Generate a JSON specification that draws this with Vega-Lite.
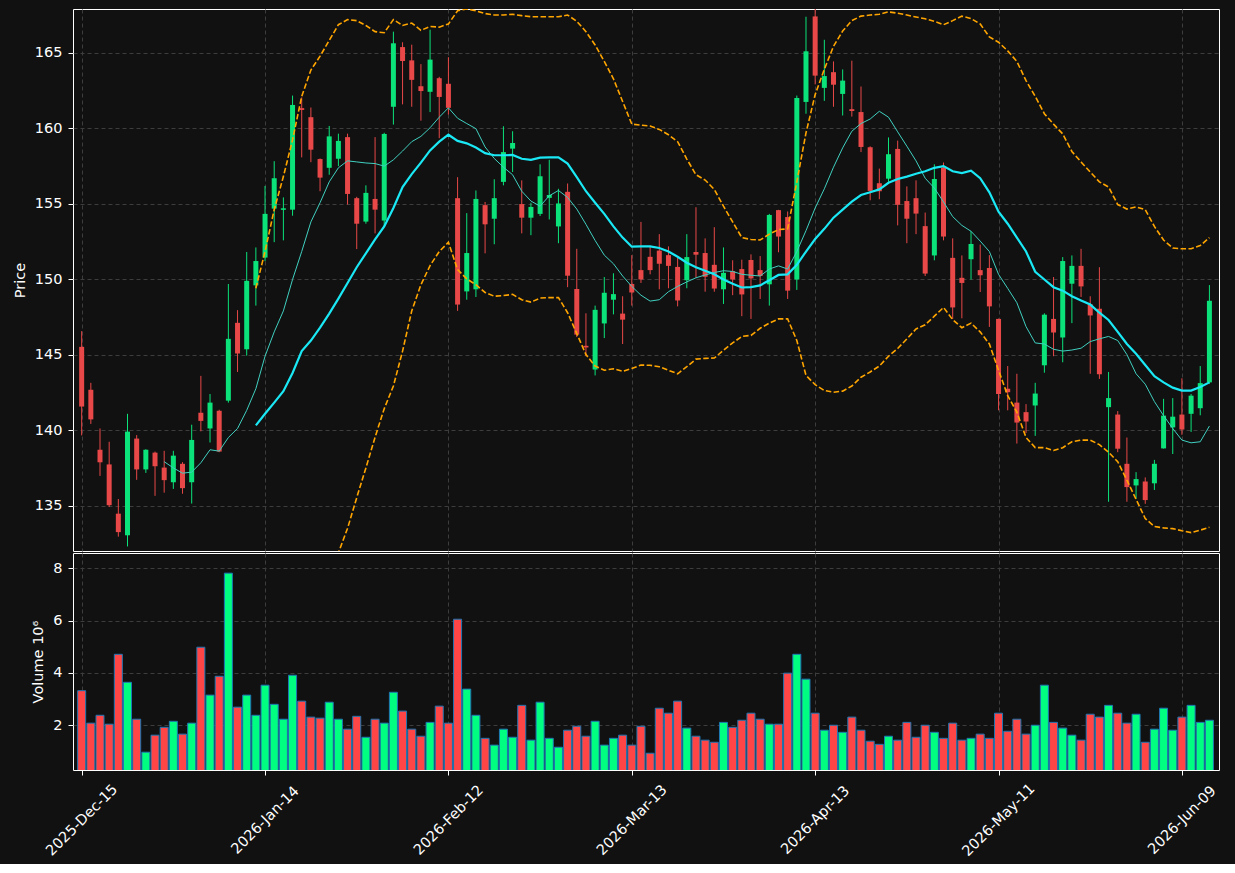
{
"$schema": "https://vega.github.io/schema/vega-lite/v6.json",
"background": "#111111",
"padding": {"left": 11, "top": 8, "right": 16, "bottom": 5},
"spacing": 0,
"config": {
  "view": {"stroke": "#ffffff", "strokeWidth": 1},
  "font": "DejaVu Sans",
  "axis": {"labelColor": "#ffffff", "titleColor": "#ffffff", "tickColor": "#ffffff", "domain": false, "gridColor": "#3d3d3d", "gridDash": [4, 3], "gridWidth": 1, "labelFontSize": 14.5, "titleFontSize": 14.5, "titleFontWeight": "normal", "tickSize": 5, "labelPadding": 6, "labelFlush": false, "labelOverlap": false}
},
"datasets": {"d": [
{"i":0,"o":145.53,"h":146.57,"l":139.67,"c":141.58,"v":3.32},
{"i":1,"o":142.69,"h":143.15,"l":140.43,"c":140.73,"v":2.08},
{"i":2,"o":138.72,"h":140.13,"l":136.99,"c":137.89,"v":2.38},
{"i":3,"o":137.75,"h":139.25,"l":134.93,"c":135.05,"v":2.04},
{"i":4,"o":134.49,"h":135.46,"l":132.97,"c":133.27,"v":4.71},
{"i":5,"o":133.06,"h":141.10,"l":132.32,"c":139.92,"v":3.64},
{"i":6,"o":139.46,"h":139.69,"l":136.73,"c":137.42,"v":2.23},
{"i":7,"o":137.42,"h":138.75,"l":137.19,"c":138.72,"v":0.97},
{"i":8,"o":138.53,"h":138.60,"l":135.67,"c":137.63,"v":1.62},
{"i":9,"o":137.54,"h":138.65,"l":135.88,"c":136.71,"v":1.92,"m10":137.93},
{"i":10,"o":136.57,"h":138.65,"l":136.13,"c":138.33,"v":2.15,"m10":137.52},
{"i":11,"o":137.79,"h":137.90,"l":135.81,"c":136.18,"v":1.66,"m10":137.17},
{"i":12,"o":136.57,"h":140.38,"l":135.16,"c":139.37,"v":2.08,"m10":137.24},
{"i":13,"o":141.17,"h":143.61,"l":139.94,"c":140.63,"v":4.98,"m10":137.86},
{"i":14,"o":140.13,"h":142.41,"l":139.20,"c":141.84,"v":3.15,"m10":138.72},
{"i":15,"o":141.30,"h":141.37,"l":138.56,"c":138.60,"v":3.87,"m10":138.63},
{"i":16,"o":141.97,"h":149.69,"l":141.84,"c":146.06,"v":7.81,"m10":139.53},
{"i":17,"o":147.12,"h":147.96,"l":143.87,"c":145.09,"v":2.69,"m10":140.13},
{"i":18,"o":145.37,"h":151.81,"l":144.95,"c":149.90,"v":3.15,"m10":141.33},
{"i":19,"o":149.60,"h":152.11,"l":148.26,"c":151.21,"v":2.38,"m10":142.76,"m20":140.33,"bu":149.41,"bl":131.25},
{"i":20,"o":151.44,"h":156.18,"l":151.20,"c":154.33,"v":3.53,"m10":144.91,"m20":141.10,"bu":151.84,"bl":130.4},
{"i":21,"o":154.68,"h":157.82,"l":152.46,"c":156.69,"v":2.80,"m10":146.52,"m20":141.84,"bu":154.61,"bl":129.1},
{"i":22,"o":154.60,"h":155.42,"l":152.58,"c":154.70,"v":2.23,"m10":147.91,"m20":142.60,"bu":156.80,"bl":128.4},
{"i":23,"o":154.61,"h":162.16,"l":154.21,"c":161.54,"v":3.91,"m10":149.99,"m20":143.80,"bu":159.23,"bl":128.4},
{"i":24,"o":161.33,"h":162.04,"l":158.07,"c":161.21,"v":2.92,"m10":151.84,"m20":145.25,"bu":162.11,"bl":128.4},
{"i":25,"o":160.73,"h":161.37,"l":157.75,"c":158.58,"v":2.31,"m10":153.80,"m20":145.95,"bu":163.85,"bl":128.1},
{"i":26,"o":157.96,"h":158.00,"l":155.83,"c":156.73,"v":2.27,"m10":155.07,"m20":146.80,"bu":164.77,"bl":128.6},
{"i":27,"o":157.38,"h":160.15,"l":156.92,"c":159.46,"v":2.88,"m10":156.45,"m20":147.73,"bu":165.81,"bl":130.0},
{"i":28,"o":157.98,"h":159.64,"l":157.49,"c":159.16,"v":2.23,"m10":157.38,"m20":148.72,"bu":166.85,"bl":131.9},
{"i":29,"o":159.41,"h":159.64,"l":154.95,"c":155.65,"v":1.85,"m10":157.84,"m20":149.76,"bu":167.19,"bl":133.52},
{"i":30,"o":155.37,"h":155.46,"l":152.00,"c":153.68,"v":2.34,"m10":157.77,"m20":150.80,"bu":167.12,"bl":135.55},
{"i":31,"o":153.82,"h":156.22,"l":153.68,"c":155.72,"v":1.54,"m10":157.70,"m20":151.72,"bu":166.80,"bl":137.52},
{"i":32,"o":155.32,"h":159.41,"l":153.04,"c":154.61,"v":2.23,"m10":157.66,"m20":152.64,"bu":166.39,"bl":139.55},
{"i":33,"o":153.89,"h":159.70,"l":153.50,"c":159.62,"v":2.08,"m10":157.49,"m20":153.50,"bu":166.32,"bl":141.44},
{"i":34,"o":161.42,"h":166.39,"l":160.24,"c":165.62,"v":3.26,"m10":157.91,"m20":154.72,"bu":167.19,"bl":142.94},
{"i":35,"o":165.37,"h":165.69,"l":161.58,"c":164.45,"v":2.54,"m10":158.49,"m20":156.11,"bu":166.80,"bl":145.25},
{"i":36,"o":164.49,"h":165.53,"l":161.42,"c":163.20,"v":1.85,"m10":159.11,"m20":156.96,"bu":166.96,"bl":147.91},
{"i":37,"o":162.78,"h":164.24,"l":160.50,"c":162.46,"v":1.58,"m10":159.46,"m20":157.72,"bu":166.48,"bl":149.64},
{"i":38,"o":162.41,"h":166.52,"l":161.07,"c":164.54,"v":2.11,"m10":160.03,"m20":158.53,"bu":166.73,"bl":150.91},
{"i":39,"o":163.31,"h":163.40,"l":159.34,"c":162.07,"v":2.73,"m10":160.73,"m20":159.11,"bu":166.69,"bl":151.84},
{"i":40,"o":162.94,"h":164.70,"l":160.90,"c":161.35,"v":2.08,"m10":161.35,"m20":159.57,"bu":166.90,"bl":152.45},
{"i":41,"o":155.37,"h":156.76,"l":147.91,"c":148.33,"v":6.05,"m10":160.66,"m20":159.16,"bu":167.77,"bl":150.64},
{"i":42,"o":149.20,"h":154.38,"l":148.65,"c":151.74,"v":3.38,"m10":160.31,"m20":159.00,"bu":167.89,"bl":150.03},
{"i":43,"o":149.34,"h":155.88,"l":148.83,"c":155.32,"v":2.38,"m10":159.97,"m20":158.72,"bu":167.77,"bl":149.64},
{"i":44,"o":154.91,"h":155.12,"l":151.72,"c":153.64,"v":1.50,"m10":158.76,"m20":158.35,"bu":167.59,"bl":149.13},
{"i":45,"o":154.01,"h":156.62,"l":152.32,"c":155.37,"v":1.24,"m10":158.00,"m20":158.21,"bu":167.49,"bl":148.88},
{"i":46,"o":156.45,"h":160.13,"l":156.22,"c":158.42,"v":1.85,"m10":157.42,"m20":158.21,"bu":167.49,"bl":148.93},
{"i":47,"o":158.65,"h":159.80,"l":157.10,"c":159.02,"v":1.54,"m10":156.92,"m20":158.23,"bu":167.54,"bl":149.00},
{"i":48,"o":154.98,"h":156.55,"l":153.04,"c":154.08,"v":2.76,"m10":155.83,"m20":157.98,"bu":167.45,"bl":148.65},
{"i":49,"o":154.08,"h":155.07,"l":152.92,"c":154.79,"v":1.43,"m10":155.18,"m20":157.91,"bu":167.38,"bl":148.49},
{"i":50,"o":154.33,"h":157.61,"l":154.19,"c":156.82,"v":2.88,"m10":154.84,"m20":158.05,"bu":167.38,"bl":148.76},
{"i":51,"o":155.39,"h":157.91,"l":153.96,"c":155.58,"v":1.50,"m10":155.53,"m20":158.07,"bu":167.38,"bl":148.79},
{"i":52,"o":153.50,"h":155.99,"l":152.39,"c":155.02,"v":1.16,"m10":155.88,"m20":158.07,"bu":167.38,"bl":148.79},
{"i":53,"o":155.79,"h":156.34,"l":149.48,"c":150.24,"v":1.81,"m10":155.42,"m20":157.66,"bu":167.49,"bl":147.79},
{"i":54,"o":149.36,"h":152.02,"l":146.18,"c":146.34,"v":1.96,"m10":154.65,"m20":156.76,"bu":167.08,"bl":146.41},
{"i":55,"o":145.60,"h":147.75,"l":144.91,"c":145.49,"v":1.58,"m10":153.64,"m20":155.83,"bu":166.39,"bl":145.02},
{"i":56,"o":144.03,"h":148.26,"l":143.64,"c":147.98,"v":2.15,"m10":152.57,"m20":155.07,"bu":165.51,"bl":144.26},
{"i":57,"o":147.08,"h":150.15,"l":146.11,"c":149.11,"v":1.24,"m10":151.60,"m20":154.33,"bu":164.42,"bl":143.98},
{"i":58,"o":148.65,"h":150.40,"l":147.68,"c":149.02,"v":1.50,"m10":151.03,"m20":153.50,"bu":163.27,"bl":144.08},
{"i":59,"o":147.73,"h":148.88,"l":145.72,"c":147.33,"v":1.62,"m10":150.22,"m20":152.76,"bu":161.77,"bl":143.91},
{"i":60,"o":149.69,"h":151.60,"l":148.26,"c":149.13,"v":1.24,"m10":149.53,"m20":152.16,"bu":160.27,"bl":144.10},
{"i":61,"o":150.61,"h":153.80,"l":149.76,"c":149.99,"v":1.96,"m10":148.95,"m20":152.18,"bu":160.20,"bl":144.33},
{"i":62,"o":151.49,"h":152.18,"l":150.33,"c":150.61,"v":0.93,"m10":148.56,"m20":152.18,"bu":160.15,"bl":144.31},
{"i":63,"o":151.90,"h":152.99,"l":149.34,"c":151.03,"v":2.65,"m10":148.65,"m20":152.07,"bu":159.92,"bl":144.22},
{"i":64,"o":151.60,"h":152.18,"l":149.41,"c":150.89,"v":2.46,"m10":149.18,"m20":151.84,"bu":159.57,"bl":143.98},
{"i":65,"o":150.82,"h":151.42,"l":148.21,"c":148.60,"v":2.92,"m10":149.53,"m20":151.49,"bu":159.11,"bl":143.75},
{"i":66,"o":149.94,"h":152.99,"l":149.41,"c":151.47,"v":1.89,"m10":149.83,"m20":151.10,"bu":157.96,"bl":144.22},
{"i":67,"o":151.81,"h":154.77,"l":150.10,"c":151.63,"v":1.58,"m10":150.10,"m20":150.80,"bu":156.92,"bl":144.72},
{"i":68,"o":151.74,"h":152.71,"l":149.18,"c":150.17,"v":1.43,"m10":150.29,"m20":150.57,"bu":156.57,"bl":144.77},
{"i":69,"o":150.96,"h":153.45,"l":149.18,"c":149.39,"v":1.35,"m10":150.45,"m20":150.33,"bu":155.95,"bl":144.79},
{"i":70,"o":149.34,"h":152.11,"l":148.37,"c":150.43,"v":2.11,"m10":150.57,"m20":149.99,"bu":154.84,"bl":145.30},
{"i":71,"o":150.54,"h":151.26,"l":148.95,"c":149.99,"v":1.92,"m10":150.52,"m20":149.71,"bu":153.80,"bl":145.79},
{"i":72,"o":150.68,"h":151.30,"l":147.56,"c":149.00,"v":2.19,"m10":150.33,"m20":149.46,"bu":152.76,"bl":146.22},
{"i":73,"o":151.28,"h":151.65,"l":147.38,"c":150.06,"v":2.46,"m10":150.27,"m20":149.48,"bu":152.64,"bl":146.29},
{"i":74,"o":150.61,"h":151.54,"l":148.70,"c":150.22,"v":2.23,"m10":150.22,"m20":149.60,"bu":152.60,"bl":146.76},
{"i":75,"o":149.67,"h":154.33,"l":148.26,"c":154.26,"v":2.04,"m10":150.68,"m20":149.94,"bu":152.99,"bl":147.10},
{"i":76,"o":154.58,"h":154.60,"l":151.79,"c":152.83,"v":2.04,"m10":150.89,"m20":150.29,"bu":153.29,"bl":147.38},
{"i":77,"o":154.12,"h":154.49,"l":148.70,"c":149.25,"v":3.99,"m10":150.68,"m20":150.33,"bu":153.34,"bl":147.38},
{"i":78,"o":149.99,"h":162.16,"l":149.30,"c":162.00,"v":4.71,"m10":151.84,"m20":150.96,"bu":156.45,"bl":145.95},
{"i":79,"o":161.74,"h":167.38,"l":160.96,"c":165.09,"v":3.76,"m10":153.22,"m20":151.84,"bu":159.69,"bl":143.64},
{"i":80,"o":167.40,"h":167.95,"l":162.90,"c":163.48,"v":2.46,"m10":154.72,"m20":152.67,"bu":162.23,"bl":143.03},
{"i":81,"o":162.67,"h":165.85,"l":161.81,"c":163.45,"v":1.81,"m10":155.99,"m20":153.34,"bu":163.90,"bl":142.64},
{"i":82,"o":163.71,"h":164.42,"l":161.42,"c":162.88,"v":2.00,"m10":157.42,"m20":154.08,"bu":165.42,"bl":142.53},
{"i":83,"o":162.27,"h":163.89,"l":160.84,"c":163.15,"v":1.73,"m10":158.70,"m20":154.61,"bu":166.43,"bl":142.60},
{"i":84,"o":161.26,"h":164.47,"l":160.77,"c":161.14,"v":2.31,"m10":159.80,"m20":155.14,"bu":167.12,"bl":142.94},
{"i":85,"o":161.07,"h":162.76,"l":158.42,"c":158.76,"v":1.81,"m10":160.31,"m20":155.58,"bu":167.42,"bl":143.52},
{"i":86,"o":158.74,"h":158.80,"l":155.23,"c":155.85,"v":1.39,"m10":160.61,"m20":155.76,"bu":167.49,"bl":143.87},
{"i":87,"o":156.36,"h":157.33,"l":155.30,"c":155.83,"v":1.27,"m10":161.12,"m20":155.95,"bu":167.54,"bl":144.26},
{"i":88,"o":156.66,"h":159.39,"l":156.45,"c":158.28,"v":1.58,"m10":160.73,"m20":156.39,"bu":167.70,"bl":144.91},
{"i":89,"o":158.63,"h":159.18,"l":153.57,"c":154.93,"v":1.43,"m10":159.76,"m20":156.64,"bu":167.61,"bl":145.42},
{"i":90,"o":155.18,"h":156.15,"l":152.39,"c":154.01,"v":2.11,"m10":158.81,"m20":156.80,"bu":167.49,"bl":146.06},
{"i":91,"o":155.37,"h":156.55,"l":152.99,"c":154.35,"v":1.54,"m10":157.84,"m20":156.99,"bu":167.36,"bl":146.71},
{"i":92,"o":153.52,"h":154.42,"l":150.22,"c":150.38,"v":2.00,"m10":156.69,"m20":157.15,"bu":167.24,"bl":146.99},
{"i":93,"o":151.58,"h":157.61,"l":151.26,"c":156.64,"v":1.73,"m10":156.04,"m20":157.38,"bu":167.08,"bl":147.56},
{"i":94,"o":157.40,"h":157.73,"l":152.58,"c":152.83,"v":1.50,"m10":155.12,"m20":157.49,"bu":166.85,"bl":148.14},
{"i":95,"o":151.42,"h":152.71,"l":147.38,"c":148.14,"v":2.08,"m10":154.15,"m20":157.15,"bu":167.12,"bl":147.33},
{"i":96,"o":150.10,"h":151.58,"l":147.42,"c":149.76,"v":1.43,"m10":153.57,"m20":157.03,"bu":167.42,"bl":146.80},
{"i":97,"o":151.33,"h":153.18,"l":149.99,"c":152.34,"v":1.50,"m10":153.18,"m20":157.19,"bu":167.26,"bl":147.10},
{"i":98,"o":150.61,"h":152.30,"l":149.16,"c":150.27,"v":1.66,"m10":152.53,"m20":156.69,"bu":166.90,"bl":146.52},
{"i":99,"o":150.75,"h":151.60,"l":146.85,"c":148.21,"v":1.50,"m10":151.84,"m20":155.76,"bu":166.04,"bl":145.72},
{"i":100,"o":147.38,"h":147.40,"l":141.33,"c":142.41,"v":2.46,"m10":150.33,"m20":154.47,"bu":165.69,"bl":143.98},
{"i":101,"o":142.76,"h":144.26,"l":141.33,"c":142.53,"v":1.77,"m10":149.40,"m20":153.68,"bu":165.12,"bl":142.30},
{"i":102,"o":141.84,"h":143.75,"l":139.13,"c":140.52,"v":2.23,"m10":148.45,"m20":152.76,"bu":164.42,"bl":141.21},
{"i":103,"o":141.21,"h":141.74,"l":139.83,"c":140.59,"v":1.66,"m10":146.87,"m20":151.84,"bu":163.15,"bl":139.53},
{"i":104,"o":141.65,"h":143.15,"l":139.64,"c":142.44,"v":2.00,"m10":145.79,"m20":150.50,"bu":162.11,"bl":138.86},
{"i":105,"o":144.31,"h":147.75,"l":143.82,"c":147.66,"v":3.53,"m10":145.72,"m20":149.99,"bu":160.96,"bl":138.86},
{"i":106,"o":147.38,"h":150.15,"l":144.91,"c":146.48,"v":2.11,"m10":145.37,"m20":149.48,"bu":160.27,"bl":138.67},
{"i":107,"o":146.15,"h":151.47,"l":144.51,"c":151.21,"v":1.89,"m10":145.25,"m20":149.25,"bu":159.62,"bl":138.86},
{"i":108,"o":149.71,"h":151.58,"l":147.10,"c":150.89,"v":1.62,"m10":145.32,"m20":148.88,"bu":158.46,"bl":139.25},
{"i":109,"o":150.89,"h":152.02,"l":148.83,"c":149.53,"v":1.43,"m10":145.44,"m20":148.60,"bu":157.77,"bl":139.36},
{"i":110,"o":148.35,"h":148.88,"l":143.75,"c":147.61,"v":2.42,"m10":145.88,"m20":148.33,"bu":157.10,"bl":139.36},
{"i":111,"o":148.05,"h":150.80,"l":143.41,"c":143.71,"v":2.31,"m10":146.06,"m20":147.79,"bu":156.45,"bl":139.06},
{"i":112,"o":141.54,"h":143.87,"l":135.28,"c":142.14,"v":2.76,"m10":146.22,"m20":147.31,"bu":156.11,"bl":138.56},
{"i":113,"o":141.05,"h":141.28,"l":138.56,"c":138.79,"v":2.46,"m10":145.95,"m20":146.52,"bu":154.95,"bl":137.93},
{"i":114,"o":137.79,"h":139.53,"l":135.28,"c":136.25,"v":2.08,"m10":145.02,"m20":145.72,"bu":154.65,"bl":136.71},
{"i":115,"o":136.36,"h":137.24,"l":135.49,"c":136.78,"v":2.42,"m10":143.75,"m20":145.07,"bu":154.79,"bl":135.44},
{"i":116,"o":136.62,"h":136.89,"l":135.14,"c":135.39,"v":1.35,"m10":143.06,"m20":144.33,"bu":154.61,"bl":134.17},
{"i":117,"o":136.50,"h":138.05,"l":136.06,"c":137.79,"v":1.85,"m10":141.91,"m20":143.59,"bu":153.50,"bl":133.64},
{"i":118,"o":138.81,"h":142.09,"l":138.80,"c":140.98,"v":2.65,"m10":140.98,"m20":143.18,"bu":152.60,"bl":133.55},
{"i":119,"o":140.20,"h":142.14,"l":138.44,"c":140.91,"v":1.81,"m10":140.13,"m20":142.83,"bu":152.07,"bl":133.50},
{"i":120,"o":141.05,"h":143.45,"l":139.71,"c":140.06,"v":2.31,"m10":139.36,"m20":142.64,"bu":152.02,"bl":133.36},
{"i":121,"o":141.10,"h":142.41,"l":139.90,"c":142.30,"v":2.76,"m10":139.18,"m20":142.64,"bu":152.02,"bl":133.24},
{"i":122,"o":141.47,"h":144.26,"l":141.00,"c":143.13,"v":2.11,"m10":139.25,"m20":142.88,"bu":152.23,"bl":133.40},
{"i":123,"o":143.18,"h":149.62,"l":143.10,"c":148.58,"v":2.19,"m10":140.29,"m20":143.18,"bu":152.76,"bl":133.59}
]},
"data": {"name": "d"},
"vconcat": [
  {
    "width": 1146,
    "height": 542,
    "encoding": {
      "x": {"field": "i", "type": "quantitative", "scale": {"domain": [-0.4, 123.5], "nice": false, "zero": false},
            "axis": {"values": [0, 20, 40, 60, 80, 100, 120], "labels": false, "ticks": false, "title": null, "grid": true}}
    },
    "layer": [
      {"mark": {"type": "rule", "strokeWidth": 1, "clip": true},
       "encoding": {
         "y": {"field": "l", "type": "quantitative", "title": "Price",
               "scale": {"domain": [132.02, 167.89], "nice": false, "zero": false},
               "axis": {"values": [135, 140, 145, 150, 155, 160, 165], "grid": true, "titlePadding": 7}},
         "y2": {"field": "h"},
         "color": {"condition": {"test": "datum.c >= datum.o", "value": "#0be37a"}, "value": "#e84848"}}},
      {"mark": {"type": "bar", "size": 5, "clip": true},
       "encoding": {
         "y": {"field": "o", "type": "quantitative", "title": "Price"},
         "y2": {"field": "c"},
         "color": {"condition": {"test": "datum.c >= datum.o", "value": "#0be37a"}, "value": "#e84848"}}},
      {"mark": {"type": "line", "color": "#ffa500", "strokeWidth": 1.6, "strokeDash": [5.5, 2.4], "clip": true},
       "encoding": {"y": {"field": "bu", "type": "quantitative", "title": "Price"}}},
      {"mark": {"type": "line", "color": "#ffa500", "strokeWidth": 1.6, "strokeDash": [5.5, 2.4], "clip": true},
       "encoding": {"y": {"field": "bl", "type": "quantitative", "title": "Price"}}},
      {"mark": {"type": "line", "color": "#40d0c0", "strokeWidth": 1, "clip": true},
       "encoding": {"y": {"field": "m10", "type": "quantitative", "title": "Price"}}},
      {"mark": {"type": "line", "color": "#1ae8f5", "strokeWidth": 2.2, "clip": true},
       "encoding": {"y": {"field": "m20", "type": "quantitative", "title": "Price"}}}
    ]
  },
  {
    "width": 1146,
    "height": 217,
    "mark": {"type": "bar", "size": 8, "stroke": "#1f77b4", "strokeWidth": 1, "clip": true},
    "encoding": {
      "x": {"field": "i", "type": "quantitative", "scale": {"domain": [-0.4, 123.5], "nice": false, "zero": false},
            "axis": {"values": [0, 20, 40, 60, 80, 100, 120], "title": null, "grid": true,
                     "labelExpr": "datum.value == 0 ? '2025-Dec-15' : datum.value == 20 ? '2026-Jan-14' : datum.value == 40 ? '2026-Feb-12' : datum.value == 60 ? '2026-Mar-13' : datum.value == 80 ? '2026-Apr-13' : datum.value == 100 ? '2026-May-11' : '2026-Jun-09'",
                     "labelAngle": -45, "labelAlign": "center", "labelBaseline": "middle", "labelPadding": 45}},
      "y": {"field": "v", "type": "quantitative", "title": "Volume  10⁶",
            "scale": {"domain": [0.29, 8.58], "nice": false, "zero": false},
            "axis": {"values": [2, 4, 6, 8], "format": "d", "grid": true, "titlePadding": 7}},
      "color": {"condition": {"test": "datum.c >= datum.o", "value": "#00ff80"}, "value": "#ff4545"}
    }
  }
]
}
